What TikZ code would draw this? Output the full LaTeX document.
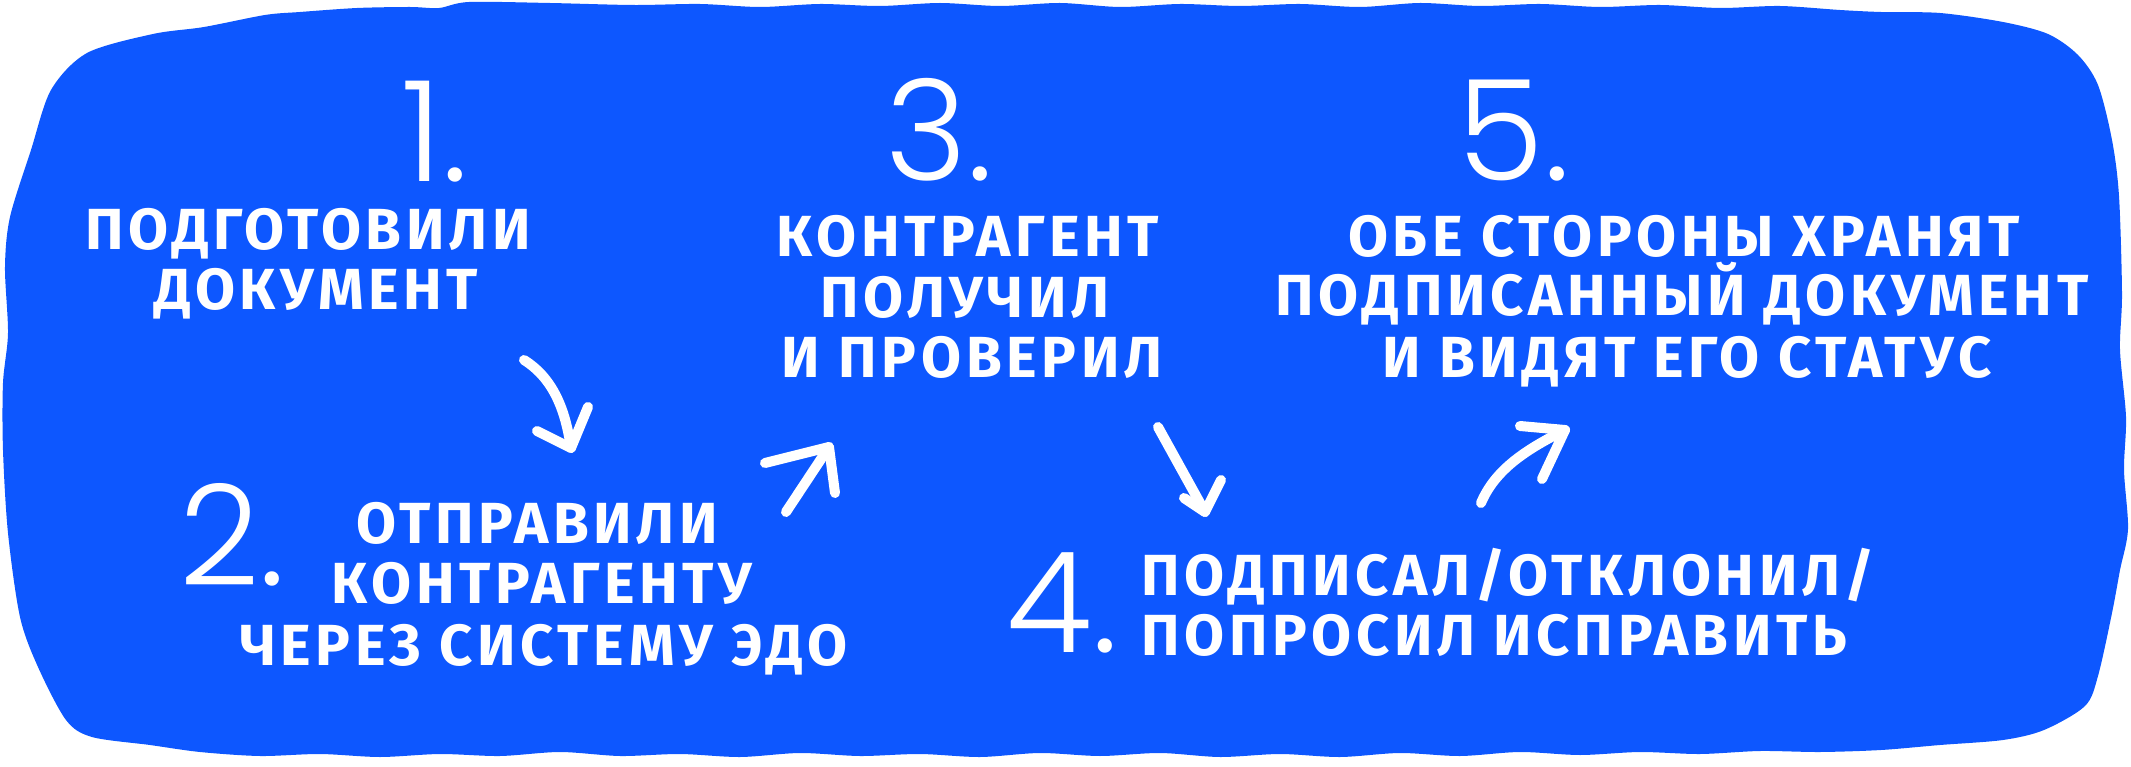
\documentclass[tikz,border=0pt]{standalone}
\usepackage{fontspec}
\setmainfont{Fira Sans}
\newfontfamily\lettfont{Fira Sans}[LetterSpace=8]
\newfontfamily\digitfont{Poppins Light}
\definecolor{blobblue}{RGB}{13,87,255}
\begin{document}
\begin{tikzpicture}[x=1pt,y=-1pt,
  lbl/.style={text=white, font=\lettfont\bfseries\fontsize{58}{60}\selectfont, anchor=base, inner sep=0pt},
  num/.style={text=white, font=\digitfont\fontsize{140}{140}\selectfont, anchor=base east, inner sep=0pt},
  arr/.style={draw=white, line width=10pt, line cap=round, line join=round}]
\useasboundingbox (0,0) rectangle (2131,767);
\fill[blobblue] plot[smooth cycle, tension=0.5] coordinates {
(51,90) (87,53) (153,34) (204,27) (265,15) (300,12) (357,8) (410,7) (439,8) (469,2) (550,3) (633,5) (700,4) (760,7) (820,4) (880,6) (940,3) (1000,6) (1060,3) (1120,7) (1180,4) (1240,6) (1300,4) (1360,7) (1420,3) (1480,6) (1540,4) (1600,7) (1660,5) (1720,8) (1780,6) (1840,10) (1881,12) (1940,13) (2003,22) (2048,34) (2078,55) (2098,85) (2112,140) (2119,196) (2122,294) (2120,350) (2126,417) (2124,470) (2128,529) (2120,570) (2112,613) (2098,676) (2085,706) (2044,730) (2003,740) (1940,745) (1881,750) (1820,752) (1760,751) (1700,754) (1640,752) (1580,755) (1520,752) (1460,756) (1400,753) (1340,757) (1280,754) (1220,757) (1160,753) (1100,756) (1040,753) (980,757) (920,754) (860,756) (800,753) (740,757) (680,754) (620,756) (560,752) (500,756) (440,754) (380,757) (320,754) (260,756) (200,752) (150,745) (92,737) (66,720) (38,667) (20,617) (8,533) (3,450) (3,383) (8,333) (5,267) (10,217) (31,150)};

% step numbers
\node[num] (n1) at (468,182) {\raisebox{0pt}[\height][0pt]{1.}};
\node[num] (n2) at (285,585) {\raisebox{0pt}[\height][0pt]{2.}};
\node[num] (n3) at (993,181) {\raisebox{0pt}[\height][0pt]{3.}};
\node[num] (n4) at (1118,652) {\raisebox{0pt}[\height][0pt]{4.}};
\node[num] (n5) at (1570,181) {\raisebox{0pt}[\height][0pt]{5.}};

% step texts
\node[lbl] (t1a) at (308,250) {ПОДГОТОВИЛИ};
\node[lbl] (t1b) at (316,310) {ДОКУМЕНТ};
\node[lbl] (t3a) at (968,257) {КОНТРАГЕНТ};
\node[lbl] (t3b) at (965,318) {ПОЛУЧИЛ};
\node[lbl] (t3c) at (972,377) {И ПРОВЕРИЛ};
\node[lbl] (t5a) at (1684,257) {ОБЕ СТОРОНЫ ХРАНЯТ};
\node[lbl] (t5b) at (1682,316) {ПОДПИСАННЫЙ ДОКУМЕНТ};
\node[lbl] (t5c) at (1687,377) {И ВИДЯТ ЕГО СТАТУС};
\node[lbl] (t2a) at (537,543) {ОТПРАВИЛИ};
\node[lbl] (t2b) at (542,603) {КОНТРАГЕНТУ};
\node[lbl] (t2c) at (544,665) {ЧЕРЕЗ СИСТЕМУ ЭДО};
\node[lbl] (t4a) at (1508,595) {ПОДПИСАЛ/ОТКЛОНИЛ/};
\node[lbl] (t4b) at (1494,655) {ПОПРОСИЛ ИСПРАВИТЬ};

% arrow end points
\coordinate (a1s) at (524,360);
\coordinate (a1t) at (571,448);
\coordinate (a1l) at (537,431);
\coordinate (a1r) at (588,407);
\coordinate (a2s) at (786,512);
\coordinate (a2t) at (829,447);
\coordinate (a2l) at (765,463);
\coordinate (a2r) at (835,493);
\coordinate (a3s) at (1158,427);
\coordinate (a3t) at (1205,512);
\coordinate (a3l) at (1184,498);
\coordinate (a3r) at (1221,480);
\coordinate (a4s) at (1481,503);
\coordinate (a4t) at (1565,430);
\coordinate (a4l) at (1520,426);
\coordinate (a4r) at (1542,479);

\draw[arr] (a1s) .. controls (556,380) and (566,415) .. (a1t);
\draw[arr] (a1l) -- (a1t) -- (a1r);
\draw[arr] (a2s) -- (a2t);
\draw[arr] (a2l) -- (a2t) -- (a2r);
\draw[arr] (a3s) -- (a3t);
\draw[arr] (a3l) -- (a3t) -- (a3r);
\draw[arr] (a4s) .. controls (1495,470) and (1525,450) .. (a4t);
\draw[arr] (a4l) -- (a4t) -- (a4r);
\end{tikzpicture}
\end{document}
